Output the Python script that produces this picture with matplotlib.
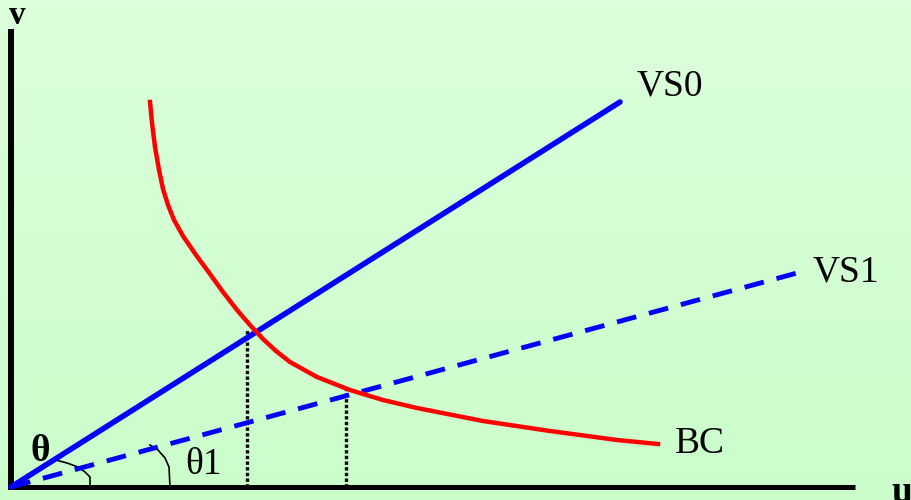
import numpy as np
import matplotlib
matplotlib.use("Agg")
import matplotlib.pyplot as plt
from matplotlib.colors import LinearSegmentedColormap

# u/v units: origin at the axis corner
vs0_u = [0.0, 6.09]
vs0_v = [0.0, 3.85]
vs1_u = [0.0, 7.86]
vs1_v = [0.0, 2.14]

bc_u = [1.39, 1.41, 1.44, 1.48, 1.52, 1.57, 1.63, 1.72, 1.85, 1.99, 2.12, 2.26,
        2.39, 2.52, 2.65, 2.79, 3.06, 3.39, 3.72, 4.06, 4.72, 5.39, 6.06, 6.47]
bc_v = [3.85, 3.64, 3.40, 3.17, 2.98, 2.82, 2.67, 2.51, 2.32, 2.13, 1.95, 1.77,
        1.62, 1.48, 1.36, 1.25, 1.10, 0.97, 0.87, 0.79, 0.66, 0.56, 0.47, 0.43]

drop_u = [2.36, 3.35]
drop_top = [1.57, 0.99]

arc0_u = [0.41, 0.56, 0.67, 0.74, 0.79, 0.79]
arc0_v = [0.28, 0.24, 0.20, 0.15, 0.10, 0.0]
arc1_u = [1.39, 1.47, 1.54, 1.58, 1.59]
arc1_v = [0.42, 0.37, 0.29, 0.20, 0.0]

x_lo, x_hi = -0.11, 9.00
y_lo, y_hi = -0.13, 4.87

fig = plt.figure(figsize=(9.11, 5), dpi=100)
ax = fig.add_axes([0, 0, 1, 1])
ax.set_xlim(x_lo, x_hi)
ax.set_ylim(y_lo, y_hi)
ax.axis('off')

# background gradient
cmap = LinearSegmentedColormap.from_list('bg', ['#dcffdc', '#cbfdcb'])
ax.imshow(np.linspace(0, 1, 200).reshape(-1, 1), cmap=cmap, aspect='auto',
          extent=(x_lo, x_hi, y_lo, y_hi), zorder=0)

# axes
ax.plot([0, 0], [-0.03, 4.58], color='black', lw=4.3, solid_capstyle='butt', zorder=3)
ax.plot([-0.03, 8.44], [0, 0], color='black', lw=3.6, solid_capstyle='butt', zorder=3)

# lines
ax.plot(vs0_u, vs0_v, color='#0000ff', lw=4.0, solid_capstyle='round', zorder=4)
ax.plot(vs1_u, vs1_v, color='#0000ff', lw=3.5, dashes=(4.1, 2.7),
        dash_capstyle='butt', zorder=4)
ax.plot(bc_u, bc_v, color='#ff0000', lw=3.2, solid_joinstyle='round', zorder=5)

for u, top in zip(drop_u, drop_top):
    ax.plot([u, u], [0, top], color='black', lw=2.4, dashes=(1.0, 0.7),
            dash_capstyle='butt', zorder=2)

ax.plot(arc0_u, arc0_v, color='black', lw=1.2, zorder=3)
ax.plot(arc1_u, arc1_v, color='black', lw=1.2, zorder=3)

font = dict(family='Liberation Serif', fontsize=27, color='black')
ax.text(6.26, 3.91, 'VS0', ha='left', va='baseline', **font)
ax.text(8.02, 2.05, 'VS1', ha='left', va='baseline', **font)
ax.text(6.64, 0.34, 'BC', ha='left', va='baseline', **font)
ax.text(1.74, 0.13, 'θ1', ha='left', va='baseline', **font)
ax.text(0.19, 0.26, 'θ', ha='left', va='baseline', fontweight='bold', **font)
ax.text(-0.02, 4.63, 'v', ha='left', va='baseline', fontweight='bold',
        family='Liberation Serif', fontsize=24)
ax.text(8.80, -0.15, 'u', ha='left', va='baseline', fontweight='bold', **font)

fig.savefig('out.png', dpi=100)
